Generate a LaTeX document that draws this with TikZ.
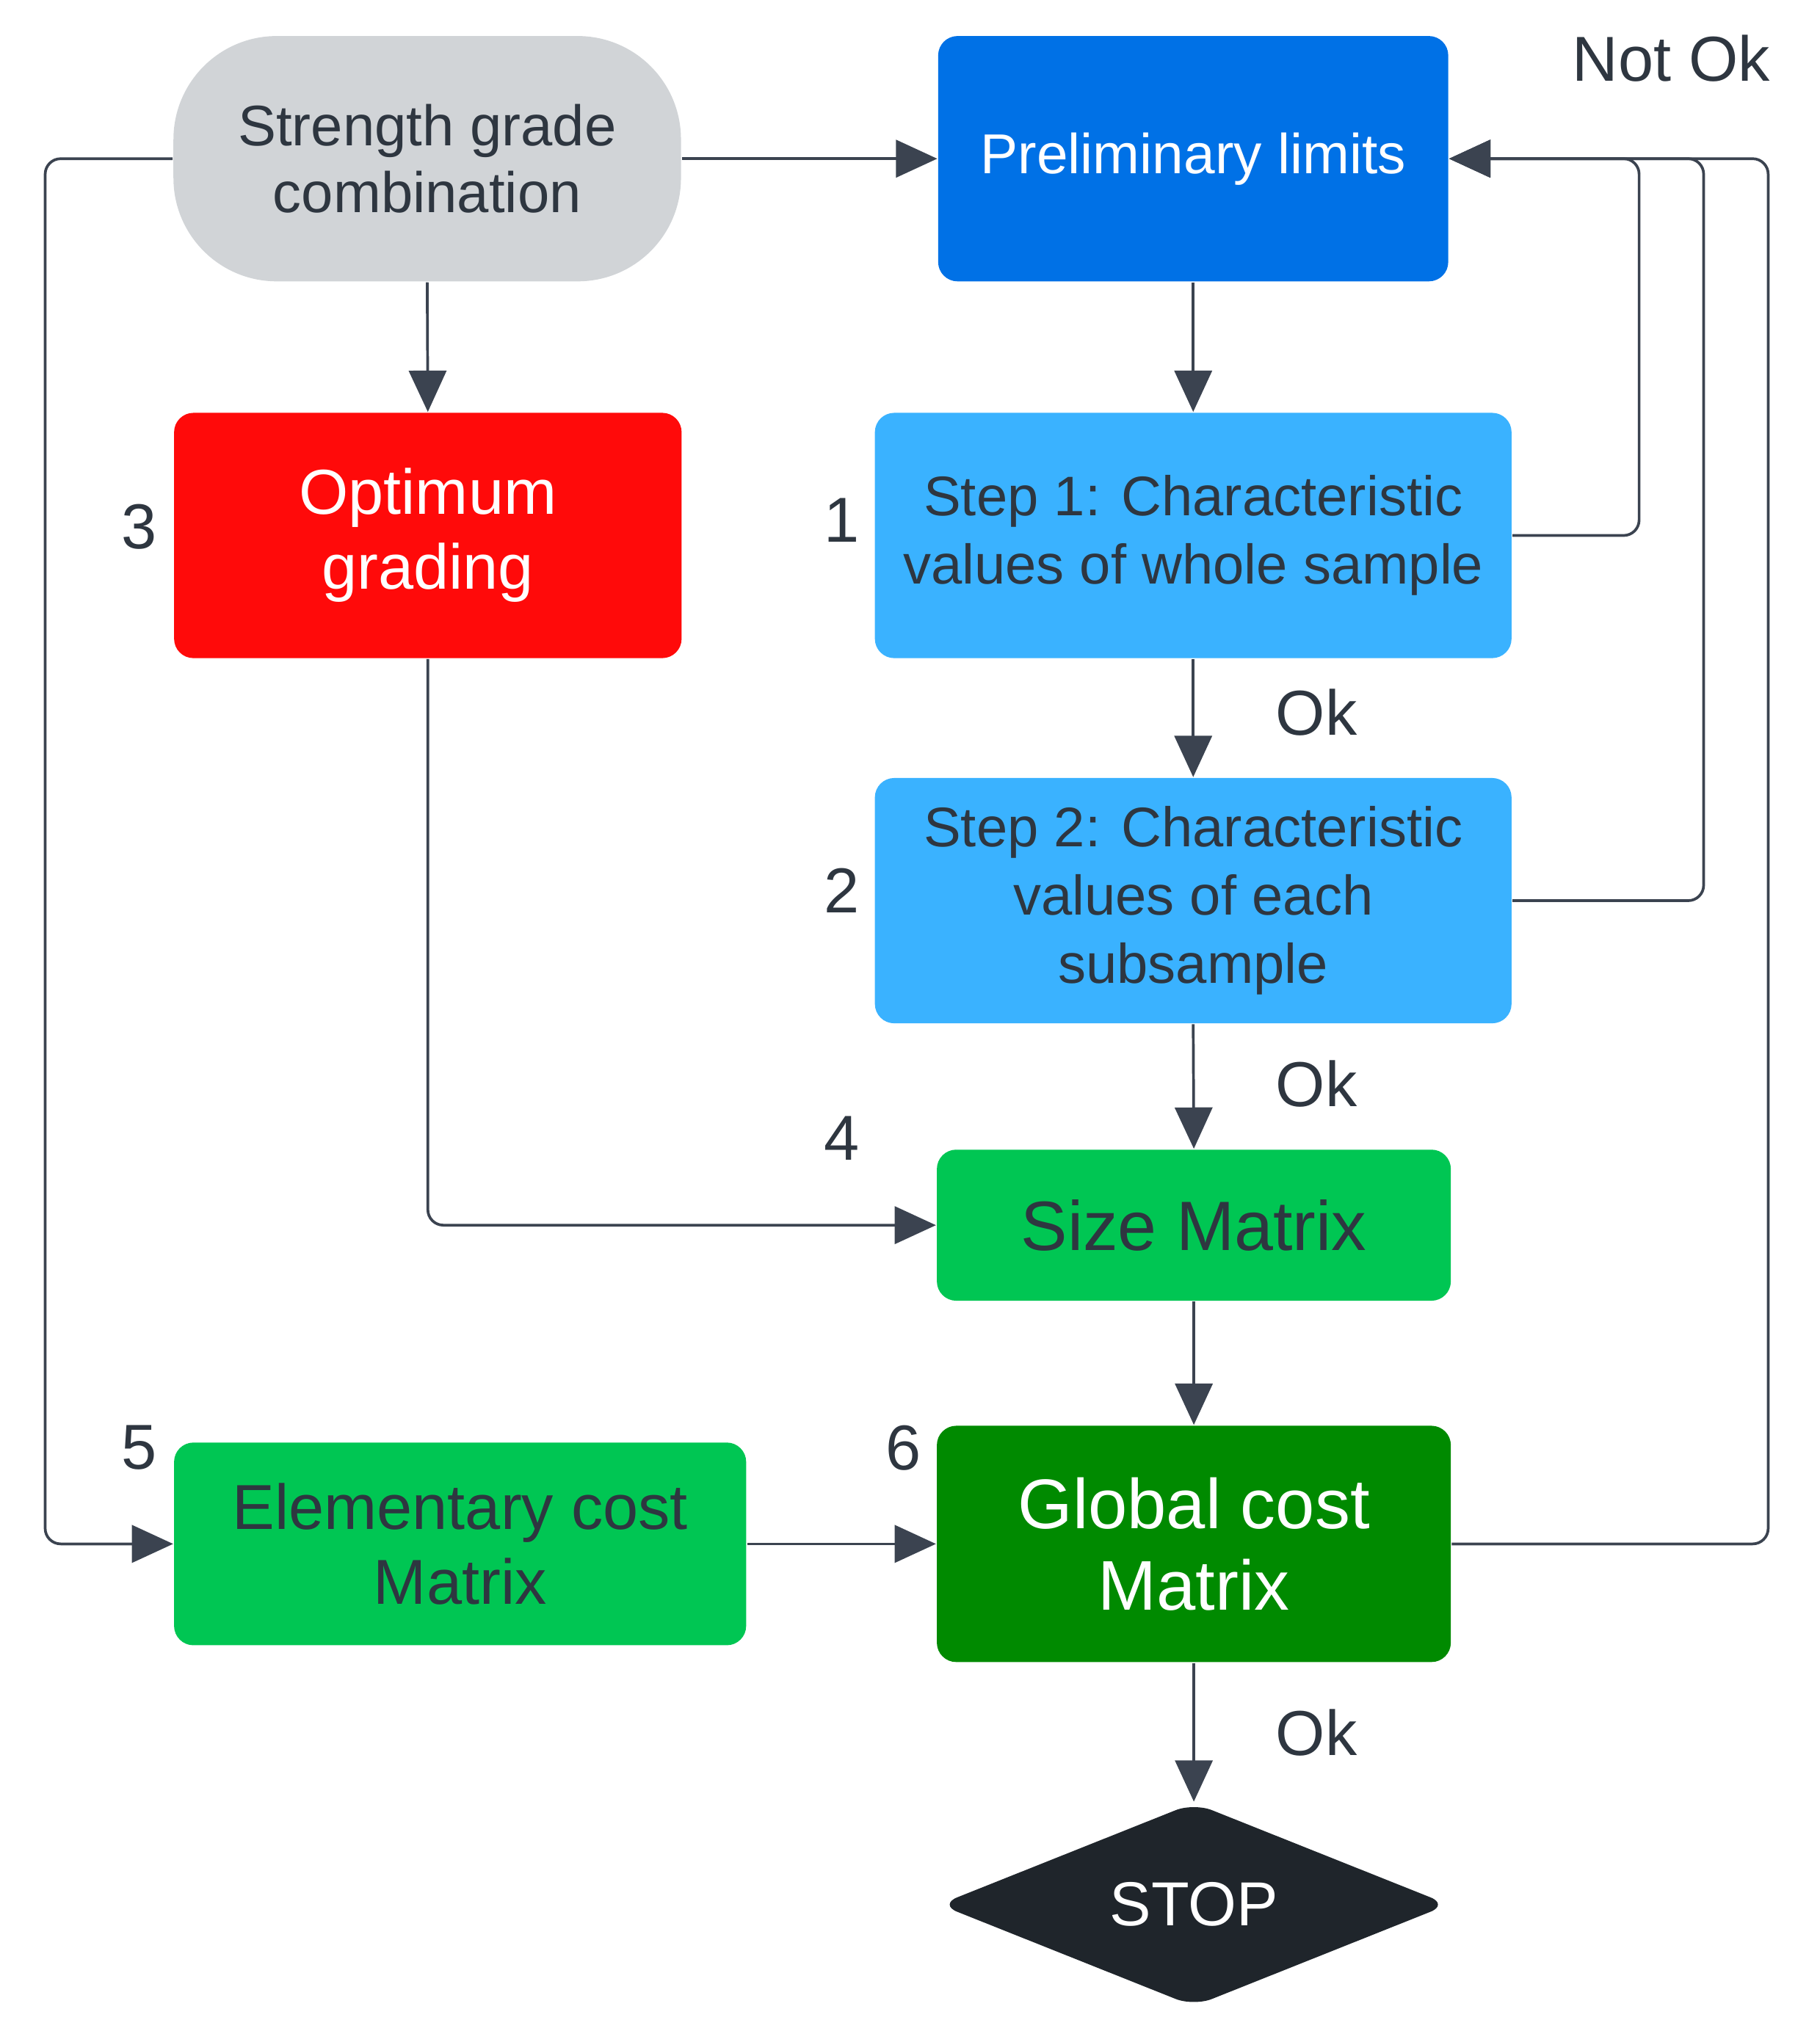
\documentclass[tikz,border=0pt]{standalone}
\usepackage{fontspec}
\setmainfont{Liberation Sans}
\usetikzlibrary{arrows.meta,shapes.geometric}
\definecolor{linegray}{HTML}{3B4350}
\definecolor{textgray}{HTML}{2E3640}
\definecolor{combgray}{HTML}{D1D4D7}
\definecolor{prelimblue}{HTML}{0071E6}
\definecolor{stepblue}{HTML}{3AB2FF}
\definecolor{optred}{HTML}{FF0A0A}
\definecolor{matgreen}{HTML}{00C653}
\definecolor{globgreen}{HTML}{008A00}
\definecolor{stopdark}{HTML}{1F252B}
\def\flownode{\node[rectangle,rounded corners=0.15cm,inner sep=0pt,align=center]}
\def\drawflow{\draw[color=linegray,line width=0.6pt,rounded corners=0.12cm,-{Triangle[length=0.32cm,width=0.29cm]}]}
\def\marknode{\node[text=textgray,font=\fontsize{14}{16}\selectfont]}

\begin{document}
\begin{tikzpicture}[x=0.01cm,y=-0.01cm]
\useasboundingbox (0,0) rectangle (1410,1574);
\flownode[rounded corners=0.8cm,fill=combgray,text=textgray,minimum width=3.93cm,minimum height=1.9cm,font=\fontsize{12.6}{14.8}\selectfont] (comb) at (331,123) {Strength grade\\combination};
\flownode[fill=prelimblue,text=white,minimum width=3.95cm,minimum height=1.9cm,font=\fontsize{12.4}{14.8}\selectfont] (prelim) at (924.5,123) {Preliminary limits};
\flownode[fill=optred,text=white,minimum width=3.93cm,minimum height=1.9cm,font=\fontsize{14}{16.5}\selectfont] (opt) at (331.5,415) {Optimum\\grading};
\flownode[fill=stepblue,text=textgray,minimum width=4.93cm,minimum height=1.9cm,font=\fontsize{12.3}{15}\selectfont] (step1) at (924.5,415) {Step 1: Characteristic\\values of whole sample};
\flownode[fill=stepblue,text=textgray,minimum width=4.93cm,minimum height=1.9cm,font=\fontsize{12.3}{15}\selectfont] (step2) at (924.5,698) {Step 2: Characteristic\\values of each\\subsample};
\flownode[fill=matgreen,text=textgray,minimum width=3.98cm,minimum height=1.17cm,font=\fontsize{15.4}{17}\selectfont] (size) at (925,949.5) {Size Matrix};
\flownode[fill=matgreen,text=textgray,minimum width=4.43cm,minimum height=1.57cm,font=\fontsize{14}{16.5}\selectfont] (elem) at (356.5,1196.5) {Elementary cost\\Matrix};
\flownode[fill=globgreen,text=white,minimum width=3.98cm,minimum height=1.83cm,font=\fontsize{15.5}{18}\selectfont] (glob) at (925,1196.5) {Global cost\\Matrix};
\node[diamond,aspect=2.5,rounded corners=0.15cm,inner sep=0pt,fill=stopdark,text=white,minimum width=3.95cm,minimum height=1.58cm,font=\fontsize{13.7}{16}\selectfont] (stop) at (925,1476) {STOP};

\marknode (notok) at (1295,45) {Not Ok};
\marknode (n3) at (108,408) {3};
\marknode (n1) at (652,403) {1};
\marknode (n2) at (652,690) {2};
\marknode (n4) at (652,882) {4};
\marknode (n5) at (108,1122) {5};
\marknode (n6) at (700,1122) {6};
\marknode (ok1) at (1020,552) {Ok};
\marknode (ok2) at (1020,840) {Ok};
\marknode (ok3) at (1020,1343) {Ok};

\drawflow (comb.east) -- (prelim.west);
\drawflow (comb.south) -- (opt.north);
\drawflow (comb.west) -- (35,123) -- (35,1196.5) -- (elem.west);
\drawflow (prelim.south) -- (step1.north);
\drawflow (step1.south) -- (step2.north);
\drawflow (step2.south) -- (size.north);
\drawflow (opt.south) -- (331.5,949.5) -- (size.west);
\drawflow (size.south) -- (glob.north);
\drawflow (elem.east) -- (glob.west);
\drawflow (glob.south) -- (stop.north);
\drawflow (step1.east) -- (1270,415) -- (1270,123) -- (prelim.east);
\drawflow (step2.east) -- (1320,698) -- (1320,123) -- (prelim.east);
\drawflow (glob.east) -- (1370,1196.5) -- (1370,123) -- (prelim.east);
\end{tikzpicture}
\end{document}
